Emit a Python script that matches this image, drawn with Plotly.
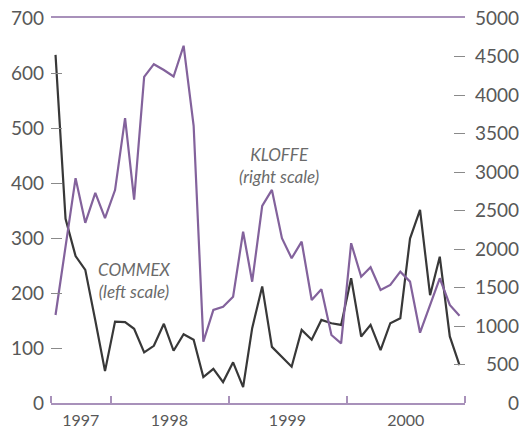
import pandas as pd
import plotly.graph_objects as go

# Monthly observations, July 1997 to December 2000 (plotted mid-month)
months = pd.date_range("1997-07-01", periods=42, freq="MS") + pd.Timedelta(days=14)

# COMMEX, left scale
commex = [633, 335, 267, 242, 150, 58, 148, 147, 135, 92, 104, 144,
          95, 125, 115, 47, 62, 38, 74, 29, 136, 212, 102, 84,
          66, 133, 115, 151, 145, 142, 227, 121, 142, 96, 145, 154,
          299, 351, 196, 266, 121, 69]

# KLOFFE, right scale
kloffe = [1143, 2000, 2920, 2340, 2730, 2400, 2765, 3700, 2640, 4235, 4400, 4325,
          4240, 4640, 3600, 796, 1208, 1250, 1380, 2225, 1575, 2560, 2767, 2140,
          1880, 2095, 1338, 1477, 883, 775, 2075, 1640, 1763, 1468, 1533, 1706,
          1576, 913, 1275, 1620, 1273, 1134]

left_ticks = [0, 100, 200, 300, 400, 500, 600, 700]
right_ticks = [0, 500, 1000, 1500, 2000, 2500, 3000, 3500, 4000, 4500, 5000]
year_labels = ["1997", "1998", "1999", "2000"]
year_centres = ["1997-10-01", "1998-07-02", "1999-07-02", "2000-07-02"]
year_bounds = ["1997-07-01", "1998-01-01", "1999-01-01", "2000-01-01", "2001-01-01"]

PURPLE = "#83629c"
AXIS_PURPLE = "#a891ba"
DARK = "#383838"
LABEL = "#585858"
FONT = "Lato"

fig = go.Figure()
fig.add_trace(go.Scatter(x=months, y=kloffe, mode="lines", yaxis="y2",
                         line=dict(color=PURPLE, width=2.2), name="KLOFFE"))
# same series on the label-only right scale (kept transparent) so that scale is drawn
fig.add_trace(go.Scatter(x=months, y=kloffe, mode="lines", yaxis="y3",
                         line=dict(color=PURPLE, width=2.2), opacity=0,
                         hoverinfo="skip", name="KLOFFE scale"))
fig.add_trace(go.Scatter(x=months, y=commex, mode="lines", yaxis="y",
                         line=dict(color=DARK, width=2.2), name="COMMEX"))

fig.update_layout(
    width=519, height=429,
    margin=dict(l=51, r=0, t=18, b=26),
    plot_bgcolor="white", paper_bgcolor="white",
    showlegend=False,
    font=dict(family=FONT, size=19, color=LABEL),
    xaxis=dict(
        domain=[0, 414 / 468],
        range=["1997-07-01", "2001-01-01"],
        showline=True, linecolor=AXIS_PURPLE, linewidth=1.5, mirror=True,
        showgrid=False, zeroline=False,
        tickmode="array", tickvals=year_centres, ticktext=year_labels, ticks="",
        ticklabelstandoff=2,
        tickfont=dict(size=16, color=LABEL),
        minor=dict(tickmode="array", tickvals=year_bounds, ticks="inside",
                   ticklen=7, tickwidth=1.5, tickcolor=AXIS_PURPLE, showgrid=False),
    ),
    yaxis=dict(
        range=[0, 700], tickmode="array", tickvals=left_ticks,
        ticktext=[str(v) for v in left_ticks],
        ticks="inside", ticklen=11, tickwidth=1.3, tickcolor="#8a8a8a",
        showline=False, showgrid=False, zeroline=False,
        ticklabelstandoff=6,
    ),
    yaxis2=dict(
        range=[0, 5000], overlaying="y", side="right", anchor="x",
        tickmode="array", tickvals=right_ticks,
        ticks="inside", ticklen=11, tickwidth=1.3, tickcolor="#8a8a8a",
        showticklabels=False, showline=False, showgrid=False, zeroline=False,
    ),
    yaxis3=dict(
        range=[0, 5000], overlaying="y", side="left", anchor="free", position=1,
        tickmode="array", tickvals=right_ticks,
        ticktext=[str(v) for v in right_ticks], ticks="",
        showline=False, showgrid=False, zeroline=False,
        ticklabelstandoff=0,
    ),
)

# Series labels
fig.add_annotation(x="1999-06-06", y=3080, yref="y2", xref="x",
                   text="<i>KLOFFE</i><br><i>(right scale)</i>", showarrow=False,
                   font=dict(family=FONT, size=17, color="#6a6a6a"), align="center")
fig.add_annotation(x="1998-03-15", y=222, yref="y", xref="x",
                   text="<i>COMMEX</i><br><i>(left scale)</i>", showarrow=False,
                   font=dict(family=FONT, size=17, color="#6a6a6a"), align="center")

fig.write_html("out.html")
